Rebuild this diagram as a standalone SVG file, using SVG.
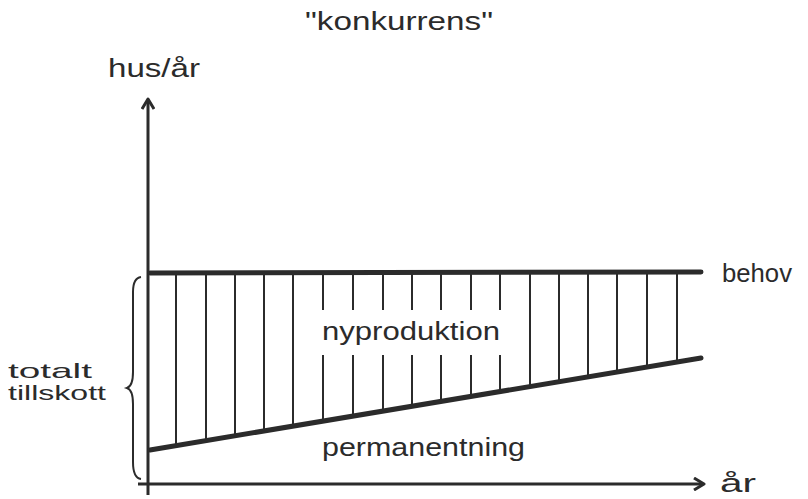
<svg xmlns="http://www.w3.org/2000/svg" width="808" height="499" viewBox="0 0 808 499">
<style>
text{font-family:"Liberation Sans",Arial,sans-serif;fill:#2b2b2b;font-size:26px}
.small{font-size:21px}
.thick{stroke:#2b2b2b;stroke-width:5;stroke-linecap:round;fill:none}
.axis{stroke:#2b2b2b;stroke-width:3;fill:none}
.hatch{stroke:#2b2b2b;stroke-width:2;fill:none}
</style>
<defs>
<marker id="ah" markerWidth="14" markerHeight="14" refX="10" refY="7" orient="auto" markerUnits="userSpaceOnUse">
<path d="M1,1 L11,7 L1,13" fill="none" stroke="#2b2b2b" stroke-width="3" stroke-linejoin="round"/>
</marker>
</defs>
<rect width="808" height="499" fill="#fff"/>
<g id="connectors">
<line id="y-axis" class="axis" x1="148" y1="495" x2="148" y2="100" marker-end="url(#ah)"/>
<line id="x-axis" class="axis" x1="138" y1="484" x2="703" y2="484" marker-end="url(#ah)"/>
<line id="behov-line" class="thick" x1="150" y1="273" x2="701" y2="272"/>
<line id="perm-line" class="thick" x1="150" y1="450" x2="701" y2="358"/>
<g id="hatches" class="hatch">
<line x1="176" y1="273" x2="176" y2="446"/>
<line x1="206" y1="273" x2="206" y2="441"/>
<line x1="235" y1="273" x2="235" y2="436"/>
<line x1="264" y1="273" x2="264" y2="431"/>
<line x1="293" y1="273" x2="293" y2="426"/>
<line x1="323" y1="273" x2="323" y2="310"/><line x1="323" y1="355" x2="323" y2="421"/>
<line x1="353" y1="273" x2="353" y2="310"/><line x1="353" y1="355" x2="353" y2="416"/>
<line x1="383" y1="273" x2="383" y2="310"/><line x1="383" y1="355" x2="383" y2="411"/>
<line x1="412" y1="273" x2="412" y2="310"/><line x1="412" y1="355" x2="412" y2="406"/>
<line x1="441" y1="273" x2="441" y2="310"/><line x1="441" y1="355" x2="441" y2="401"/>
<line x1="471" y1="273" x2="471" y2="310"/><line x1="471" y1="355" x2="471" y2="396"/>
<line x1="500" y1="273" x2="500" y2="310"/><line x1="500" y1="355" x2="500" y2="391"/>
<line x1="530" y1="273" x2="530" y2="386"/>
<line x1="559" y1="273" x2="559" y2="381"/>
<line x1="588" y1="273" x2="588" y2="376"/>
<line x1="617" y1="273" x2="617" y2="371"/>
<line x1="647" y1="273" x2="647" y2="366"/>
<line x1="677" y1="273" x2="677" y2="361"/>
</g>
<path id="brace" class="hatch" d="M141,277 Q133,278 133,292 L133,372 Q133,386 127,388 Q133,390 133,404 L133,462 Q133,478 141,479"/>
</g>
<g id="title"><text x="305" y="30" textLength="188" lengthAdjust="spacingAndGlyphs">"konkurrens"</text></g>
<g id="y-label"><text x="108" y="77" textLength="92" lengthAdjust="spacingAndGlyphs">hus/år</text></g>
<g id="behov"><text x="722" y="282" textLength="70" lengthAdjust="spacingAndGlyphs">behov</text></g>
<g id="nyproduktion"><text x="322" y="340" textLength="178" lengthAdjust="spacingAndGlyphs">nyproduktion</text></g>
<g id="permanentning"><text x="322" y="456" textLength="203" lengthAdjust="spacingAndGlyphs">permanentning</text></g>
<g id="x-label"><text x="720" y="492" textLength="36" lengthAdjust="spacingAndGlyphs">år</text></g>
<g id="totalt"><text class="small" x="8" y="378" textLength="84" lengthAdjust="spacingAndGlyphs">totalt</text><text class="small" x="8" y="400" textLength="98" lengthAdjust="spacingAndGlyphs">tillskott</text></g>
</svg>
